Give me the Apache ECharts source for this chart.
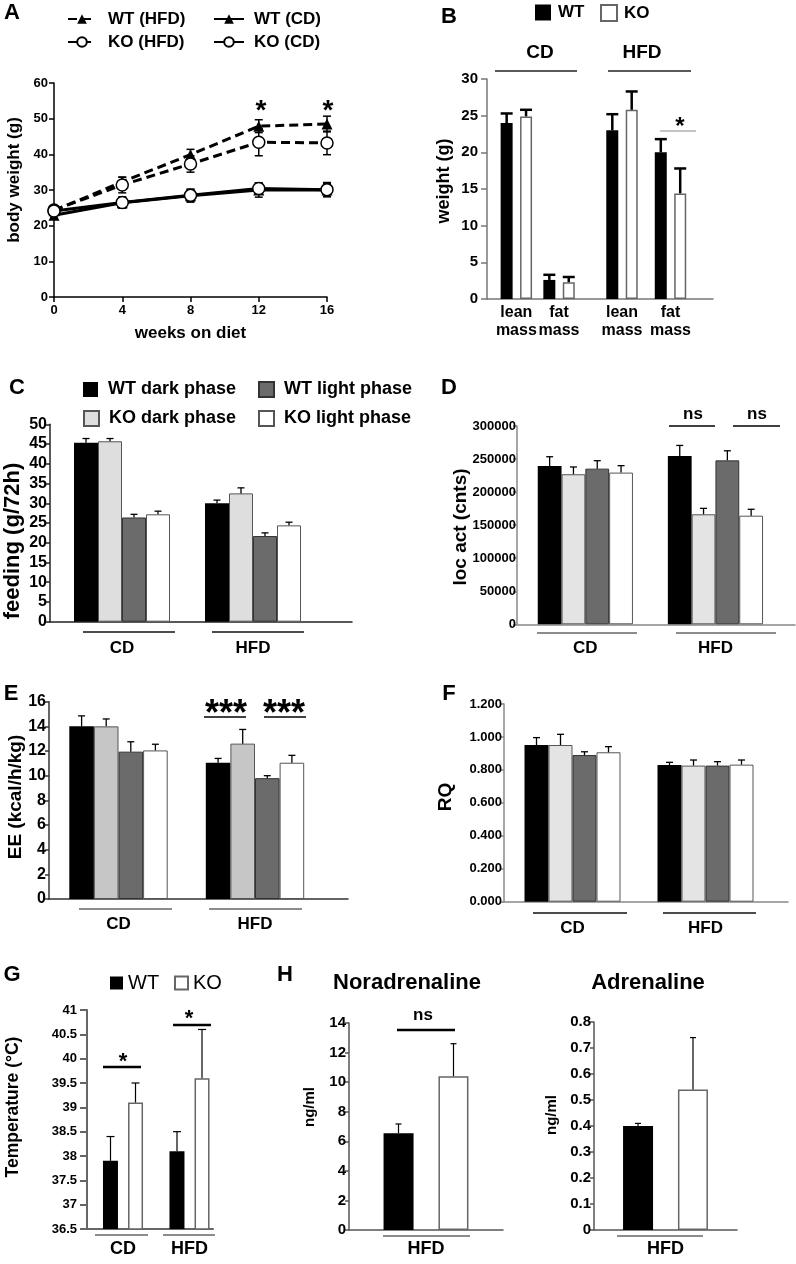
<!DOCTYPE html>
<html><head><meta charset="utf-8">
<script src="https://cdn.jsdelivr.net/npm/echarts@6/dist/echarts.min.js"></script>
<style>html,body{margin:0;padding:0;background:#fff}#c{width:796px;height:1264px}</style>
</head><body><div id="c"></div>
<script>
// ---------------- DATA ----------------
// Panel A: body weight (g) vs weeks on diet (mean, SEM)
const weeks = [0, 4, 8, 12, 16];
const bwWtHFD = [24.2, 32.3, 39.9, 47.9, 48.5];
const bwWtHFDErr = [1.0, 1.3, 1.5, 1.8, 2.2];
const bwKoHFD = [24.4, 31.4, 37.3, 43.4, 43.2];
const bwKoHFDErr = [1.0, 2.2, 2.3, 3.8, 3.3];
const bwWtCD = [22.9, 26.4, 28.4, 30.0, 30.0];
const bwWtCDErr = [0.8, 1.5, 1.8, 2.0, 1.8];
const bwKoCD = [24.1, 26.5, 28.5, 30.4, 30.1];
const bwKoCDErr = [0.8, 1.6, 1.7, 1.6, 2.0];

// Panel B: body composition (g)
const compCats = ['lean\nmass', 'fat\nmass'];
const compWtCD = [24.0, 2.6];   const compWtCDErr = [1.3, 0.7];
const compKoCD = [24.9, 2.3];   const compKoCDErr = [0.9, 0.7];
const compWtHFD = [23.0, 20.0]; const compWtHFDErr = [2.2, 1.8];
const compKoHFD = [25.8, 14.4]; const compKoHFDErr = [2.5, 3.4];

// Panels C-F: order WT dark, KO dark, WT light, KO light; each [CD, HFD]
const dietCats = ['CD', 'HFD'];
const phaseNames = ['WT dark phase', 'KO dark phase', 'WT light phase', 'KO light phase'];
const feeding = [[45.3, 30.0], [45.7, 32.5], [26.4, 21.7], [27.2, 24.4]];
const feedingErr = [[1.1, 0.8], [0.7, 1.4], [0.8, 0.8], [0.8, 0.8]];
const locAct = [[239500, 254600], [227000, 166400], [235500, 248000], [229500, 164300]];
const locActErr = [[14000, 16000], [11000, 9000], [12000, 14500], [10500, 9700]];
const ee = [[14.0, 11.05], [14.0, 12.6], [11.95, 9.8], [12.05, 11.05]];
const eeErr = [[0.85, 0.35], [0.6, 1.15], [0.8, 0.2], [0.5, 0.6]];
const rq = [[0.951, 0.830], [0.951, 0.826], [0.890, 0.826], [0.907, 0.832]];
const rqErr = [[0.045, 0.016], [0.065, 0.034], [0.02, 0.024], [0.034, 0.028]];

// Panel G: temperature (°C), [CD, HFD]
const tempWT = [37.9, 38.1]; const tempWTErr = [0.5, 0.4];
const tempKO = [39.1, 39.6]; const tempKOErr = [0.4, 1.0];

// Panel H: catecholamines (ng/ml), HFD
const hCats = ['HFD'];
const noradWT = [6.55]; const noradWTErr = [0.62];
const noradKO = [10.4]; const noradKOErr = [2.2];
const adrenWT = [0.40]; const adrenWTErr = [0.01];
const adrenKO = [0.54]; const adrenKOErr = [0.2];

// ---------------- BUILD ----------------
const FONT = "'Liberation Sans', Arial, Helvetica, sans-serif";
const grids = [], xAxis = [], yAxis = [], series = [], legend = [], elements = [];
const fmtNum = v => String(Number((+v).toFixed(6)));

function addGrid(l, t, w, h) {
  return grids.push({left: l, top: t, width: w, height: h, containLabel: false, outerBoundsMode: 'none'}) - 1;
}
function frameAxes(g, o) {
  const ls = {color: o.axisColor, width: o.axisWidth};
  xAxis.push({gridIndex: g, type: 'value', min: 0, max: 1, axisLine: {show: true, lineStyle: ls},
    axisTick: {show: false}, axisLabel: {show: false}, splitLine: {show: false}});
  yAxis.push({gridIndex: g, type: 'value', min: o.min, max: o.max, interval: o.interval,
    axisLine: {show: true, lineStyle: ls},
    axisTick: {show: true, length: o.tick, lineStyle: ls},
    axisLabel: {margin: o.margin, fontSize: o.fontSize, fontWeight: 'bold', color: '#000', fontFamily: FONT,
      formatter: o.formatter || fmtNum},
    splitLine: {show: false}});
}
function barAxes(g, cats, min, max, lab) {
  const xi = xAxis.push({gridIndex: g, type: 'category', data: cats, axisLine: {show: false}, axisTick: {show: false},
    axisLabel: lab ? Object.assign({color: '#000', fontWeight: 'bold', fontFamily: FONT, interval: 0}, lab) : {show: false},
    splitLine: {show: false}}) - 1;
  const yi = yAxis.push({gridIndex: g, type: 'value', min: min, max: max, show: false, splitLine: {show: false}}) - 1;
  return {xi, yi};
}
function addBars(ax, name, data, style, bw, gap) {
  series.push({type: 'bar', name: name, xAxisIndex: ax.xi, yAxisIndex: ax.yi, data: data,
    barWidth: bw, barGap: gap, itemStyle: style, silent: true, z: 2});
}
function addErr(ax, xs, vals, errs, offset, o) {
  series.push({type: 'custom', xAxisIndex: ax.xi, yAxisIndex: ax.yi, silent: true, z: o.z || 5,
    data: vals.map((v, i) => [xs[i], v, v + errs[i], o.both ? v - errs[i] : v]),
    renderItem: function (params, api) {
      const top = api.coord([api.value(0), api.value(2)]);
      const bot = api.coord([api.value(0), api.value(3)]);
      const x = top[0] + offset, c = o.cap / 2;
      const st = {stroke: o.color || '#000', lineWidth: o.lw};
      const ch = [
        {type: 'line', shape: {x1: x, y1: bot[1], x2: x, y2: top[1]}, style: st},
        {type: 'line', shape: {x1: x - c, y1: top[1], x2: x + c, y2: top[1]}, style: st}
      ];
      if (o.both) ch.push({type: 'line', shape: {x1: x - c, y1: bot[1], x2: x + c, y2: bot[1]}, style: st});
      return {type: 'group', children: ch};
    }});
}
function txt(s, x, y, size, opt) {
  opt = opt || {};
  elements.push({type: 'text', x: x, y: y, rotation: opt.rot || 0, silent: true, z: 10,
    style: {text: s, fontSize: size, fontWeight: opt.weight || 'bold', fontFamily: FONT, fill: '#000',
      align: 'center', verticalAlign: 'middle'}});
}
function hline(x1, x2, y, color, w) {
  elements.push({type: 'line', silent: true, z: 10, shape: {x1: x1, y1: y, x2: x2, y2: y},
    style: {stroke: color, lineWidth: w}});
}
function legendItem(name, left, top, o) {
  const l = {data: [name], left: left, top: top, orient: 'horizontal', padding: 0, selectedMode: false,
    itemWidth: o.w, itemHeight: o.h, itemGap: 0,
    textStyle: {fontSize: o.fs, fontWeight: o.weight || 'bold', fontFamily: FONT, color: '#000', padding: [0, 0, 0, o.pad || 0]}};
  if (o.icon) l.icon = o.icon;
  legend.push(l);
}

// ---- Panel A ----
const gA = addGrid(54, 83, 273, 214);
const axA = {
  xi: xAxis.push({gridIndex: gA, type: 'value', min: 0, max: 16, interval: 4,
    name: 'weeks on diet', nameLocation: 'middle', nameGap: 28,
    nameTextStyle: {fontSize: 17, fontWeight: 'bold', color: '#000', fontFamily: FONT},
    axisLine: {lineStyle: {color: '#000', width: 1.5}},
    axisTick: {show: true, length: 5, lineStyle: {color: '#000', width: 1.5}},
    axisLabel: {margin: 7, fontSize: 13, fontWeight: 'bold', color: '#000', fontFamily: FONT},
    splitLine: {show: false}}) - 1,
  yi: yAxis.push({gridIndex: gA, type: 'value', min: 0, max: 60, interval: 10,
    axisLine: {show: true, lineStyle: {color: '#000', width: 1.5}},
    axisTick: {show: true, length: 5, lineStyle: {color: '#000', width: 1.5}},
    axisLabel: {margin: 6, fontSize: 13, fontWeight: 'bold', color: '#000', fontFamily: FONT},
    splitLine: {show: false}}) - 1
};
const aSeries = [
  {name: 'WT (HFD)', v: bwWtHFD, e: bwWtHFDErr, dash: true, sym: 'triangle'},
  {name: 'KO (HFD)', v: bwKoHFD, e: bwKoHFDErr, dash: true, sym: 'circle'},
  {name: 'WT (CD)', v: bwWtCD, e: bwWtCDErr, dash: false, sym: 'triangle'},
  {name: 'KO (CD)', v: bwKoCD, e: bwKoCDErr, dash: false, sym: 'circle'}
];
aSeries.forEach(s => addErr(axA, weeks, s.v, s.e, 0, {lw: 1.5, cap: 8, both: true, z: 1}));
aSeries.forEach(s => {
  series.push({type: 'line', name: s.name, xAxisIndex: axA.xi, yAxisIndex: axA.yi,
    data: weeks.map((w, i) => [w, s.v[i]]), symbol: s.sym, symbolSize: s.sym === 'circle' ? 12 : 11,
    lineStyle: {color: '#000', width: 3, type: s.dash ? [9, 5] : 'solid'},
    itemStyle: s.sym === 'circle' ? {color: '#fff', borderColor: '#000', borderWidth: 1.5} : {color: '#000', borderColor: '#000', borderWidth: 0},
    silent: true, z: 3});
});
legendItem('WT (HFD)', 67, 10.5, {w: 28, h: 12, fs: 17, pad: 7});
legendItem('WT (CD)', 213, 10.5, {w: 30, h: 12, fs: 17, pad: 5});
legendItem('KO (HFD)', 67, 33.5, {w: 28, h: 12, fs: 17, pad: 7});
legendItem('KO (CD)', 213, 33.5, {w: 30, h: 12, fs: 17, pad: 5});
txt('*', 261, 111, 28); txt('*', 328, 111, 28);

// ---- Panel B ----
const gB = addGrid(487, 79, 226, 220);
frameAxes(gB, {min: 0, max: 30, interval: 5, axisColor: '#777', axisWidth: 1.5, tick: 6, margin: 9, fontSize: 15});
const gB1 = addGrid(495, 79, 85.4, 220);
const gB2 = addGrid(597.75, 79, 97, 220);
const labB = {margin: 5, fontSize: 16, lineHeight: 18};
const axB1 = barAxes(gB1, compCats, 0, 30, labB);
const axB2 = barAxes(gB2, compCats, 0, 30, labB);
const wtStyle = {color: '#000'};
const koStyleB = {color: '#fff', borderColor: '#666', borderWidth: 1.5};
addBars(axB1, 'WT', compWtCD, wtStyle, 12, '62%');
addBars(axB1, 'KO', compKoCD, koStyleB, 12, '62%');
addBars(axB2, 'WT', compWtHFD, wtStyle, 12, '62%');
addBars(axB2, 'KO', compKoHFD, koStyleB, 12, '62%');
const errB = {lw: 2.5, cap: 12};
addErr(axB1, [0, 1], compWtCD, compWtCDErr, -9.7, errB);
addErr(axB1, [0, 1], compKoCD, compKoCDErr, 9.7, errB);
addErr(axB2, [0, 1], compWtHFD, compWtHFDErr, -9.7, errB);
addErr(axB2, [0, 1], compKoHFD, compKoHFDErr, 9.7, errB);
legendItem('WT', 535, 4, {w: 16, h: 16, fs: 17, pad: 2, icon: 'rect'});
legendItem('KO', 600, 4, {w: 16, h: 16, fs: 17, pad: 2, icon: 'rect'});
txt('CD', 540, 53, 19); txt('HFD', 642, 53, 19);
hline(495, 577, 71, '#222', 1.5); hline(608, 691, 71, '#222', 1.5);
txt('*', 680, 127, 24); hline(660, 696, 131, '#888', 1);

// ---- Panels C-F ----
function phasePanel(frame, barGrid, min, max, interval, vals, errs, o) {
  const gf = addGrid(frame[0], frame[1], frame[2], frame[3]);
  frameAxes(gf, {min: min, max: max, interval: interval, axisColor: o.axisColor, axisWidth: 1.5, tick: 4,
    margin: o.margin, fontSize: o.fontSize, formatter: o.formatter});
  const gb = addGrid(barGrid[0], frame[1], barGrid[1], frame[3]);
  const ax = barAxes(gb, dietCats, min, max, {margin: o.labMargin, fontSize: 17});
  const styles = [
    {color: '#000'},
    {color: o.koDark, borderColor: '#555', borderWidth: 1},
    {color: '#6b6b6b', borderColor: '#333', borderWidth: 1},
    {color: '#fff', borderColor: '#555', borderWidth: 1}
  ];
  for (let i = 0; i < 4; i++) addBars(ax, phaseNames[i], vals[i], styles[i], o.bw, 0);
  for (let i = 0; i < 4; i++) addErr(ax, [0, 1], vals[i], errs[i], (i - 1.5) * o.bw, {lw: 1.3, cap: 7});
}
phasePanel([50, 424.3, 302, 197.4], [56.5, 262], 0, 50, 5, feeding, feedingErr,
  {axisColor: '#222', margin: 3, fontSize: 16, labMargin: 18, koDark: '#dedede', bw: 24});
phasePanel([517, 426, 278, 198.3], [520.3, 260.2], 0, 300000, 50000, locAct, locActErr,
  {axisColor: '#888', margin: 1, fontSize: 13, labMargin: 16, koDark: '#e4e4e4', bw: 23.8, formatter: v => String(v)});
phasePanel([49, 701.7, 299, 197.3], [50.25, 273], 0, 16, 2, ee, eeErr,
  {axisColor: '#333', margin: 3, fontSize: 16, labMargin: 17, koDark: '#c6c6c6', bw: 24.6});
phasePanel([504, 704, 284, 197.7], [506, 266], 0, 1.2, 0.2, rq, rqErr,
  {axisColor: '#888', margin: 2, fontSize: 13, labMargin: 18, koDark: '#e4e4e4', bw: 24, formatter: v => (+v).toFixed(3)});

legendItem('WT dark phase', 83, 380.5, {w: 15, h: 15, fs: 18, pad: 5, icon: 'rect'});
legendItem('WT light phase', 258, 380.5, {w: 15, h: 15, fs: 18, pad: 5, icon: 'rect'});
legendItem('KO dark phase', 83, 409.5, {w: 15, h: 15, fs: 18, pad: 5, icon: 'rect'});
legendItem('KO light phase', 258, 409.5, {w: 15, h: 15, fs: 18, pad: 5, icon: 'rect'});

hline(83, 175, 632, '#111', 1.5); hline(212, 304, 632, '#111', 1.5);
hline(537, 637, 633, '#666', 1.5); hline(676, 776, 633, '#666', 1.5);
hline(79, 172, 909, '#666', 1.5); hline(209, 302, 909, '#666', 1.5);
hline(533, 627, 913, '#111', 1.5); hline(663, 756, 913, '#111', 1.5);
txt('ns', 693, 414, 17); txt('ns', 757, 414, 17);
hline(669, 715, 426, '#000', 1.5); hline(733, 780, 426, '#000', 1.5);
txt('***', 226, 715, 36); txt('***', 284, 715, 36);
hline(204, 246, 717, '#000', 1.5); hline(264, 306, 717, '#000', 1.5);

// ---- Panel G ----
const gG = addGrid(87, 1010, 126, 219);
frameAxes(gG, {min: 36.5, max: 41, interval: 0.5, axisColor: '#666', axisWidth: 2, tick: 7, margin: 10, fontSize: 13});
const gG2 = addGrid(89.75, 1010, 133, 219);
const axG = barAxes(gG2, dietCats, 36.5, 41, {margin: 11, fontSize: 18});
addBars(axG, 'WT', tempWT, {color: '#000'}, 15, '67%');
addBars(axG, 'KO', tempKO, {color: '#fff', borderColor: '#666', borderWidth: 1.5}, 15, '67%');
addErr(axG, [0, 1], tempWT, tempWTErr, -12.5, {lw: 1.2, cap: 8});
addErr(axG, [0, 1], tempKO, tempKOErr, 12.5, {lw: 1.2, cap: 8});
legendItem('WT', 110, 973, {w: 13, h: 13, fs: 20, weight: 'normal', pad: 0, icon: 'rect'});
legendItem('KO', 174, 973, {w: 13, h: 13, fs: 20, weight: 'normal', pad: 0, icon: 'rect'});
hline(95, 148, 1235, '#666', 1.5); hline(163, 215, 1235, '#666', 1.5);
txt('*', 123, 1062, 22); hline(103, 141, 1067, '#000', 2.5);
txt('*', 189, 1019, 22); hline(173, 211, 1025, '#000', 2.5);

// ---- Panel H ----
function hPanel(l, t, w, h, max, interval, wt, wtE, ko, koE) {
  const g = addGrid(l, t, w, h);
  const ls = {color: '#555', width: 1.5};
  const xi = xAxis.push({gridIndex: g, type: 'category', data: hCats, axisLine: {show: true, lineStyle: ls},
    axisTick: {show: false}, axisLabel: {margin: 10, fontSize: 18, fontWeight: 'bold', color: '#000', fontFamily: FONT},
    splitLine: {show: false}}) - 1;
  const yi = yAxis.push({gridIndex: g, type: 'value', min: 0, max: max, interval: interval,
    axisLine: {show: true, lineStyle: ls}, axisTick: {show: true, length: 4, lineStyle: ls},
    axisLabel: {margin: 3, fontSize: 15, fontWeight: 'bold', color: '#000', fontFamily: FONT, formatter: fmtNum},
    splitLine: {show: false}}) - 1;
  const ax = {xi, yi};
  addBars(ax, 'WT', wt, {color: '#000'}, 30, '83%');
  addBars(ax, 'KO', ko, {color: '#fff', borderColor: '#666', borderWidth: 1.5}, 30, '83%');
  addErr(ax, [0], wt, wtE, -27.5, {lw: 1.2, cap: 6});
  addErr(ax, [0], ko, koE, 27.5, {lw: 1.2, cap: 6});
}
hPanel(349, 1023, 154, 207, 14, 2, noradWT, noradWTErr, noradKO, noradKOErr);
hPanel(594, 1022, 143, 208, 0.8, 0.1, adrenWT, adrenWTErr, adrenKO, adrenKOErr);
txt('Noradrenaline', 407, 983, 22); txt('Adrenaline', 648, 983, 22);
hline(383, 470, 1236, '#666', 1.5); hline(617, 703, 1236, '#666', 1.5);
txt('ns', 423, 1015, 17); hline(397, 455, 1030, '#000', 2.5);

// ---- Panel letters & rotated axis titles ----
txt('A', 12, 13, 22); txt('B', 449, 17, 22); txt('C', 17, 388, 22); txt('D', 449, 388, 22);
txt('E', 11, 694, 22); txt('F', 449, 694, 22); txt('G', 12, 975, 22); txt('H', 285, 975, 22);
const R = Math.PI / 2;
txt('body weight (g)', 14, 180, 17, {rot: R});
txt('weight (g)', 444, 181, 18, {rot: R});
txt('feeding (g/72h)', 13, 541, 22, {rot: R});
txt('loc act (cnts)', 461, 527, 19, {rot: R});
txt('EE (kcal/h/kg)', 15.5, 797, 19, {rot: R});
txt('RQ', 446, 797, 19, {rot: R});
txt('Temperature (°C)', 13.5, 1107, 17.5, {rot: R});
txt('ng/ml', 310, 1107, 15, {rot: R});
txt('ng/ml', 552, 1115, 15, {rot: R});

const chart = echarts.init(document.getElementById('c'), null, {renderer: 'canvas', width: 796, height: 1264});
chart.setOption({
  animation: false,
  backgroundColor: '#fff',
  textStyle: {fontFamily: FONT},
  tooltip: {show: false},
  grid: grids, xAxis: xAxis, yAxis: yAxis, series: series, legend: legend,
  graphic: {elements: elements}
});
</script></body></html>
